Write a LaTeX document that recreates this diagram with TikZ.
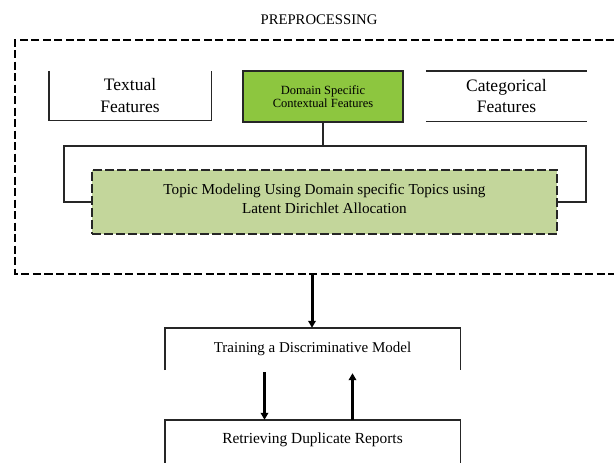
\documentclass[tikz,border=0pt]{standalone}
\usepackage{fontspec}
\setmainfont{Liberation Serif}
\usetikzlibrary{arrows.meta}
\definecolor{dsgreen}{RGB}{141,198,63}
\definecolor{topicgreen}{RGB}{195,214,155}
\begin{document}
\begin{tikzpicture}[x=1pt,y=1pt,
  thin line/.style={line width=1.4pt, draw=black!85},
  boxnode/.style={rectangle, inner sep=0pt, align=center},
  outerdash/.style={line width=2pt, dash pattern=on 8pt off 3.5pt},
  topicdash/.style={line width=2.4pt, dash pattern=on 9pt off 3pt},
  arr/.style={line width=3pt, -{Triangle[length=7pt,width=7.5pt]}}
]
\useasboundingbox (0,0) rectangle (614,-463);

% title
\node[boxnode, font=\fontsize{14.7}{16}\selectfont] (title) at (319,-20) {PREPROCESSING};

% outer dashed preprocessing frame (open to the right)
\coordinate (preNE) at (614,-39.5);
\coordinate (preNW) at (15,-39.5);
\coordinate (preSW) at (15,-273.5);
\coordinate (preSE) at (614,-273.5);
\coordinate (preS) at (312,-273.5);
\draw[outerdash] (preNE) -- (preNW) -- (preSW) -- (preSE);

% feature boxes
\node[boxnode, minimum width=162pt, minimum height=49pt,
      font=\fontsize{17.5}{22}\selectfont] (tex) at (130,-95.5) {Textual\\Features};
\draw[thin line] (tex.north west) -- (tex.south west) -- (tex.south east) -- (tex.north east);

\node[boxnode, minimum width=160pt, minimum height=51pt, fill=dsgreen,
      draw=black!85, line width=1.4pt,
      font=\fontsize{12.5}{13.5}\selectfont] (dom) at (323,-96.5) {Domain Specific\\Contextual Features};

\node[boxnode, minimum width=161pt, minimum height=50pt,
      font=\fontsize{17.5}{21}\selectfont] (cat) at (506.5,-96) {Categorical\\Features};
\draw[thin line] (cat.north west) -- (cat.north east);
\draw[thin line] (cat.south west) -- (cat.south east);

% topic modelling box
\node[boxnode, minimum width=465pt, minimum height=64pt, fill=topicgreen,
      draw=black!85, topicdash,
      font=\fontsize{15.2}{19}\selectfont] (topic) at (324.5,-202)
      {Topic Modeling Using Domain specific Topics using\\Latent Dirichlet Allocation\rule[-7pt]{0pt}{0pt}};

% bracket connector
\coordinate (bl) at (64,-146);
\coordinate (br) at (586,-146);
\draw[thin line] (dom.south) -- (dom.south |- bl);
\draw[thin line] (topic.west) -| (bl) -- (br) |- (topic.east);

% training box
\node[boxnode, minimum width=295pt, minimum height=42pt,
      font=\fontsize{15}{17}\selectfont] (train) at (312.5,-349) {Training a Discriminative Model};
\draw[thin line] (train.south west) -- (train.north west) -- (train.north east) -- (train.south east);

% retrieving box
\node[boxnode, minimum width=295pt, minimum height=43pt,
      font=\fontsize{15.4}{17}\selectfont] (retr) at (312.5,-441.5) {Retrieving Duplicate Reports\rule[-6pt]{0pt}{0pt}};
\draw[thin line] (retr.south west) -- (retr.north west) -- (retr.north east) -- (retr.south east);

% arrows
\draw[arr] (preS) -- (train.north -| preS);
\draw[arr] ([xshift=-48pt,yshift=-2pt]train.south) -- ([xshift=-48pt]retr.north);
\draw[arr] ([xshift=40pt]retr.north) -- ([xshift=40pt,yshift=-3pt]train.south);
\end{tikzpicture}
\end{document}
